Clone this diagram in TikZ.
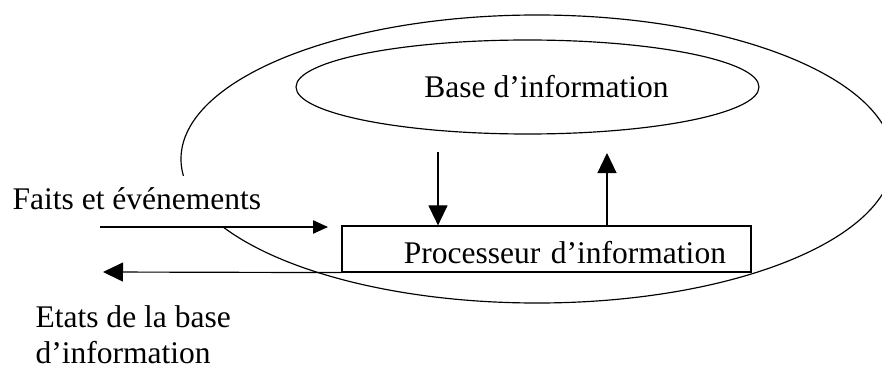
\documentclass[tikz,border=0pt]{standalone}
\usepackage{fontspec}
\setmainfont{Liberation Serif}
\usetikzlibrary{shapes.geometric,arrows.meta}

\begin{document}
\begin{tikzpicture}[x=0.03cm, y=-0.03cm, line width=1pt,
                    font=\fontsize{26.9}{29.9}\selectfont,
                    system node/.style={ellipse,draw,minimum width=21.36cm,minimum height=8.64cm},
                    base node/.style={ellipse,draw,inner sep=0pt,minimum width=13.89cm,minimum height=2.82cm},
                    proc node/.style={rectangle,draw,inner ysep=0pt,inner xsep=0.75cm,text width=10.77cm,
                                      align=right,text height=1.11cm,text depth=0.27cm},
                    big arrow/.style={-{Triangle[length=0.6cm,width=0.57cm]}},
                    small arrow/.style={-{Triangle[length=0.45cm,width=0.4cm]}}]

  \useasboundingbox (0,0) rectangle (882,367);

  \node[system node] (system) at (537,159) {};
  \node[base node] (base) at (527.5,87) {\hspace*{1.14cm}Base d’information};
  \node[proc node] (proc) at (546.5,249) {Processeur d’information};

  \node[anchor=base west, fill=white, inner sep=0pt, text height=0.99cm, text depth=0.51cm] (faits) at (12,209) {Faits et événements};
  \node[anchor=base west, align=left, inner sep=0pt] (etats) at (35,363) {Etats de la base\\d’information};

  \coordinate (down) at (438,152);
  \coordinate (up) at (607,153);
  \coordinate (in start) at (100,227);
  \coordinate (in end) at (328,227);
  \coordinate (out end) at (103,272);

  \draw[big arrow] (down) -- (down |- proc.north);
  \draw[big arrow] (up |- proc.north) -- (up);
  \draw[small arrow] (in start) -- (in end);
  \draw[big arrow] (proc.south west) -- (out end);

\end{tikzpicture}
\end{document}
